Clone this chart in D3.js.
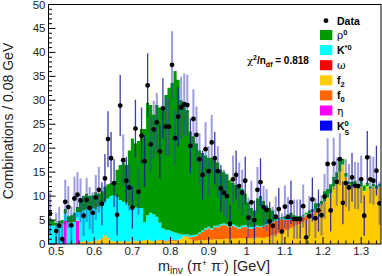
<!DOCTYPE html>
<html>
<head>
<meta charset="utf-8">
<script src="https://cdn.jsdelivr.net/npm/d3@7"></script>
<style>
  body { margin: 0; background: #fff; }
  svg { display: block; font-family: "Liberation Sans", Arial, Helvetica, sans-serif; }
</style>
</head>
<body>
<div id="chart"></div>
<script>
// binning of the invariant mass histogram
var binLow = 0.48;
var binWidth = 0.008;

// data points (events per bin) and their errors
var counts = [6.4,0,2.7,3.8,1.0,8.8,7.7,3.9,9.5,10.3, 9.1,5.9,9.2,7.5,6.5,9.7,11.3,8.4,13.7,21.9,
  17.9,12.7,6.1,28.9,17.5,13.2,11.8,7.6,24.1,10.9, 22.6,17.3,33.1,20.8,23.9,25.4,19.3,28.3,24.5,24.5,
  37.4,22.1,26.6,28.5,29.2,29.0,20.5,26.1,22.8,17.7, 14.4,19.8,15.2,21.2,17.9,15.2,11.6,10.7,10.0,4.2,
  13.5,14.4,12.1,10.7,13.2,5.5,8.7,5.0,11.3,12.9, 7.7,7.1,4.7,3.8,5.7,7.3,2.6,7.8,5.6,8.7,
  5.2,5.2,5.2,7.9,1.4,5.8,9.3,5.4,7.0,6.0, 9.9,16.7,7.0,16.8,13.0,17.7,8.6,12.7,11.8,13.9,
  12.2,12.1,13.5,5.9,18.1,13.5,13.2,15.3,8.5];
var errors = [4.3,0,3.8,4.0,3.6,4.6,4.4,4.0,4.6,4.7, 4.6,4.2,4.6,4.4,4.3,4.7,4.8,4.5,5.1,5.8,
  5.5,5.0,4.3,6.4,5.4,5.0,4.9,4.4,6.0,4.8, 5.9,5.4,6.7,5.7,6.0,6.1,5.6,6.3,6.0,6.0,
  7.0,5.8,6.2,6.4,6.4,6.4,5.7,6.2,5.9,5.4, 5.1,5.6,5.2,5.8,5.5,5.2,4.9,4.8,4.7,4.0,
  5.0,5.1,4.9,4.8,5.0,4.2,4.5,4.1,4.8,5.0, 4.4,4.4,4.1,4.0,4.2,4.4,3.8,4.4,4.2,4.5,
  4.1,4.1,4.1,4.5,3.7,4.2,4.6,4.2,4.4,4.2, 4.7,5.4,4.4,5.4,5.0,5.4,4.5,5.0,4.9,5.1,
  4.9,4.9,5.0,4.2,5.5,5.0,5.0,5.2,4.5];
// bins belonging to the second data sample
var sampleB = [17,18,19,20,21,22,23,25,27,28,30,31,32,36,37,42,46,50,54,56,59,61,64,67,69,72,75,79,82,84,86,88,92,96,99,103,104,107];

// fitted components
var rho = [1.4,1.2,0.5,0.8,0.7,1.0,1.3,1.5,1.9,1.0, 3.0,3.0,3.3,3.0,2.7,3.5,2.7,3.0,3.0,3.0,
  2.7,2.3,5.7,7.3,8.2,7.9,11.5,14.2,13.4,14.0, 16.5,19.4,23.5,22.5,20.8,23.3,24.0,24.6,28.1,29.7,
  31.0,33.7,32.1,28.0,27.0,26.0,21.7,20.6,19.0,17.1, 16.2,15.2,14.4,14.7,13.7,13.2,11.4,10.7,10.4,9.5,
  8.7,8.5,8.5,7.7,6.6,5.1,4.0,3.4,5.7,6.3, 5.1,3.8,3.1,2.3,1.0,0.3,0.2,0.6,1.0,1.3,
  0.8,0.4,0.3,0.2,0.3,0.6,0.6,1.3,0.8,0.7, 2.0,1.8,1.9,1.9,1.4,2.4,1.2,0.7,0.4,0.9,
  0.6,0.9,0.9,1.1,0.7,0.4,0.5,0.6,0.4];
var kstar = [4.0,3.8,3.9,4.0,4.3,1.5,4.5,4.5,4.5,1.8, 6.1,6.4,6.6,6.6,6.9,6.6,6.9,6.8,7.1,8.2,
  9.3,9.6,9.3,8.7,8.2,8.1,7.5,7.2,6.9,6.9, 6.8,3.8,5.1,5.8,5.6,4.9,3.6,2.5,2.3,2.1,
  1.7,1.6,1.3,0.9,0.4,0.4,0.4,0.4,0.3,0.3, 0.3,0.3,0.3,0.3,0.3,0.3,0.3,0.3,0.3,0.3,
  0.3,0.3,0.3,0.3,0.3,0.3,0.3,0.2,0.2,0.2, 0.2,0.2,0.2,0.2,0.2,0.2,0.2,0.2,0.2,0.2,
  0.2,0.2,0.2,0.2,0.2,0.2,0.2,0.2,0.2,0.1, 0.1,0.1,0.1,0.1,0.1,0.1,0.1,0.1,0.1,0.1,
  0.1,0.1,0.1,0.1,0.1,0.1,0.1,0.1,0.1];
var omega = [0,0,0,0,0,0,0,0,0,0, 0,0,0,0,0,0,0,0,0,0, 0,0,0,0,0,0,0,0,0,0,
  0,0,0,0,0,0,0,0.1,0.1,0.1, 0.1,0.1,0,0,0,0,0,0,0,0, 0,0,0,0,0,0,0,0,0,0,
  0,0,0,0,0,0,0,0,0,0, 0,0,0,0,0,0,0,0,0,0, 0,0,0,0,0,0,0,0,0,0,
  0,0,0,0,0,0,0,0,0,0, 0,0,0,0,0,0,0,0,0];
var f2 = [0,0,0,0,0,0,0,0,0.1,0.1, 0.3,0.5,0.4,0.3,0.5,0.6,0.8,1.0,1.8,1.2,
  0.6,0.5,0.4,0.4,0.5,0.4,0.4,0.5,0.6,0.5, 0.6,0.7,0.8,0.6,0.5,0.7,0.8,0.6,0.5,0.6,
  0.7,0.6,0.8,1.0,1.5,1.4,1.0,0.7,0.7,0.8, 0.8,0.8,0.9,0.9,1.0,1.0,1.0,1.0,1.1,1.1,
  1.1,1.1,1.2,1.2,1.2,1.2,1.2,1.3,1.3,1.3, 1.2,1.4,1.5,1.8,2.0,2.2,2.5,2.8,3.0,3.3,
  3.6,4.0,4.2,4.6,5.0,5.4,5.8,6.5,7.2,8.0, 8.8,9.6,10.5,12.0,13.5,15.0,16.5,14.0,12.5,12.0,
  12.5,11.5,12.0,11.0,12.0,11.5,12.0,11.5,12.0];
var f0 = [0,0,0,0,0,0,0,0,0,0, 0.1,0.1,0.2,0.1,0.1,0.1,0.1,0.2,0.1,0.1,
  0.1,0.1,0.1,0.1,0.1,0.1,0.1,0.1,0.1,0.1, 0.1,0.1,0.1,0.1,0.1,0.1,0.1,0.1,0.1,0.1,
  0.1,0.1,0.1,0.1,0.1,0.2,0.4,0.8,1.0,1.3, 1.7,2.2,2.4,2.1,2.5,2.5,2.8,3.0,2.7,2.4,
  2.7,2.4,2.0,2.3,2.4,2.1,2.0,2.1,2.3,2.2, 2.5,2.6,2.7,2.7,2.8,2.8,2.7,2.2,2.0,1.7,
  1.4,1.2,1.1,1.0,1.0,0.8,0.7,0.5,0.3,0.2, 0.1,0,0,0,0,0,0,0,0,0,
  0,0,0,0,0,0,0,0,0];
var eta = [0,0,0,0,0,4.8,0,0,0,4.8, 0,0,0,0,0,0,0,0,0,0, 0,0,0,0,0,0,0,0,0,0,
  0,0,0,0,0,0,0,0,0,0, 0,0,0,0,0,0,0,0,0,0, 0,0,0,0,0,0,0,0,0,0,
  0,0,0,0,0,0,0,0,0,0, 0,0,0,0,0,0,0,0,0,0, 0,0,0,0,0,0,0,0,0,0,
  0,0,0,0,0,0,0,0,0,0, 0,0,0,0,0,0,0,0,0];
var kshort = eta.map(function() { return 0; });

var xTicks = [0.5, 0.6, 0.7, 0.8, 0.9, 1, 1.1, 1.2, 1.3];
var xTickLabels = ["0.5", "0.6", "0.7", "0.8", "0.9", "1", "1.1", "1.2", "1.3"];
var yTicks = [0, 5, 10, 15, 20, 25, 30, 35, 40, 45, 50];

var width = 382, height = 276;
var m = {left: 48.5, right: 381, top: 4.5, bottom: 244};

var svg = d3.select("#chart").append("svg")
  .attr("width", width)
  .attr("height", height);

var x = d3.scaleLinear().domain([binLow, binLow + binWidth * counts.length]).range([m.left, m.right]);
var y = d3.scaleLinear().domain([0, 50]).range([m.bottom, m.top]);

svg.append("defs").append("clipPath").attr("id", "clip")
  .append("rect").attr("x", m.left).attr("y", m.top)
  .attr("width", m.right - m.left).attr("height", m.bottom - m.top);

// stacked fit components, bottom first
var layers = [
  {key: "ks", values: kshort, color: "#0000ff"},
  {key: "eta", values: eta, color: "#ff00ff"},
  {key: "f2", values: f2, color: "#ffcc00"},
  {key: "f0", values: f0, color: "#ff6600"},
  {key: "omega", values: omega, color: "#ff0000"},
  {key: "kstar", values: kstar, color: "#00ffff"},
  {key: "rho", values: rho, color: "#009900"}
];

var table = counts.map(function(_, i) {
  var row = {bin: i};
  layers.forEach(function(l) { row[l.key] = l.values[i]; });
  return row;
});

var stacked = d3.stack().keys(layers.map(function(l) { return l.key; }))(table);

var area = d3.area()
  .x(function(d) { return x(d.x); })
  .y0(function(d) { return y(d.y0); })
  .y1(function(d) { return y(d.y1); });

var plot = svg.append("g").attr("clip-path", "url(#clip)");

stacked.forEach(function(series, li) {
  var pts = [];
  series.forEach(function(d, i) {
    var lo = binLow + i * binWidth;
    pts.push({x: lo, y0: d[0], y1: d[1]});
    pts.push({x: lo + binWidth, y0: d[0], y1: d[1]});
  });
  plot.append("path")
    .attr("d", area(pts))
    .attr("fill", layers[li].color);
});

// data points with error bars
var points = counts.map(function(v, i) {
  return {x: binLow + (i + 0.5) * binWidth, v: v, e: errors[i], b: sampleB.indexOf(i) >= 0};
}).filter(function(d) { return d.v > 0; });

plot.append("g").selectAll("line")
  .data(points.filter(function(d) { return !d.b; }))
  .enter().append("line")
  .attr("x1", function(d) { return x(d.x); })
  .attr("x2", function(d) { return x(d.x); })
  .attr("y1", function(d) { return y(Math.max(0, d.v - d.e)); })
  .attr("y2", function(d) { return y(d.v + d.e); })
  .attr("stroke", "rgba(60,60,190,0.5)")
  .attr("stroke-width", 2);

plot.append("g").selectAll("line")
  .data(points.filter(function(d) { return d.b; }))
  .enter().append("line")
  .attr("x1", function(d) { return x(d.x); })
  .attr("x2", function(d) { return x(d.x); })
  .attr("y1", function(d) { return y(Math.max(0, d.v - d.e)); })
  .attr("y2", function(d) { return y(d.v + d.e); })
  .attr("stroke", "rgba(25,25,150,0.85)")
  .attr("stroke-width", 1.3);

plot.append("g").selectAll("circle")
  .data(points)
  .enter().append("circle")
  .attr("cx", function(d) { return x(d.x); })
  .attr("cy", function(d) { return y(d.v); })
  .attr("r", 2.4)
  .attr("fill", "#000");

// frame
svg.append("rect")
  .attr("x", m.left).attr("y", m.top)
  .attr("width", m.right - m.left).attr("height", m.bottom - m.top)
  .attr("fill", "none").attr("stroke", "#000").attr("stroke-width", 1);

// axes ticks (ROOT style, inside)
var ax = svg.append("g").attr("stroke", "#000").attr("stroke-width", 1);
d3.range(0, 51, 1).forEach(function(v) {
  var major = v % 5 === 0;
  ax.append("line").attr("x1", m.left).attr("x2", m.left + (major ? 7 : 3.5))
    .attr("y1", y(v)).attr("y2", y(v));
});
d3.range(0, 44).map(function(i) { return 0.48 + i * 0.02; }).forEach(function(v) {
  var major = Math.abs(v * 10 - Math.round(v * 10)) < 1e-6;
  if (x(v) < m.left || x(v) > m.right) return;
  ax.append("line").attr("x1", x(v)).attr("x2", x(v))
    .attr("y1", m.bottom).attr("y2", m.bottom - (major ? 7 : 3.5));
});

svg.append("g").selectAll("text")
  .data(yTicks).enter().append("text")
  .attr("x", 45.5).attr("y", function(d) { return y(d) + 4; })
  .attr("text-anchor", "end")
  .attr("font-size", 11.5).attr("fill", "#222")
  .text(function(d) { return d; });

svg.append("g").selectAll("text")
  .data(xTicks).enter().append("text")
  .attr("x", function(d) { return x(d); }).attr("y", 255)
  .attr("text-anchor", "middle")
  .attr("font-size", 11.5).attr("fill", "#222")
  .text(function(d, i) { return xTickLabels[i]; });

// axis titles
svg.append("text")
  .attr("transform", "translate(13,121) rotate(-90)")
  .attr("text-anchor", "middle")
  .attr("font-size", 14).attr("fill", "#222")
  .text("Combinations / 0.08 GeV");

var xt = svg.append("text")
  .attr("x", 214).attr("y", 271)
  .attr("text-anchor", "middle")
  .attr("font-size", 14.5).attr("fill", "#222");
xt.append("tspan").text("m");
xt.append("tspan").attr("font-size", 10).attr("dy", 3).text("inv");
xt.append("tspan").attr("dy", -3).text(" (π");
xt.append("tspan").attr("font-size", 9).attr("dy", -5).text("+");
xt.append("tspan").attr("dy", 5).text(" π");
xt.append("tspan").attr("font-size", 9).attr("dy", -5).text("-");
xt.append("tspan").attr("dy", 5).text(") [GeV]");

// chi2 text
var ct = svg.append("text")
  .attr("x", 247).attr("y", 64)
  .attr("font-size", 10).attr("font-weight", "bold").attr("fill", "#000");
ct.append("tspan").attr("font-weight", "normal").attr("font-family", "DejaVu Serif, serif").text("χ");
ct.append("tspan").attr("font-size", 7).attr("dy", -4).text("2");
ct.append("tspan").attr("dy", 4).text("/n");
ct.append("tspan").attr("font-size", 7).attr("dy", 2.5).text("df");
ct.append("tspan").attr("dy", -2.5).text(" = 0.818");

// legend
var legend = svg.append("g");
legend.append("circle").attr("cx", 326).attr("cy", 20.7).attr("r", 2.4).attr("fill", "#000");
legend.append("text").attr("x", 337).attr("y", 24.5)
  .attr("font-size", 10.5).attr("font-weight", "bold").text("Data");

var entries = [
  {color: "#009900", parts: [["ρ", "greek"], ["0", "sup"]]},
  {color: "#00ffff", parts: [["K", "bold"], ["*0", "sup"]]},
  {color: "#ff0000", parts: [["ω", "greek"]]},
  {color: "#ffcc00", parts: [["f", "bold"], ["2", "sub"]]},
  {color: "#ff6600", parts: [["f", "bold"], ["0", "sub"]]},
  {color: "#ff00ff", parts: [["η", "greek"]]},
  {color: "#0000ff", parts: [["K", "bold"], ["0", "sup"]], below: "S"}
];

entries.forEach(function(e, i) {
  var cy = 35 + i * 15.1;
  legend.append("rect").attr("x", 320).attr("y", cy - 5).attr("width", 12.3).attr("height", 10)
    .attr("fill", e.color);
  var t = legend.append("text").attr("x", 337).attr("y", cy + 4)
    .attr("font-size", 10.5).attr("font-weight", "bold").attr("fill", "#000");
  var shift = 0;
  e.parts.forEach(function(p) {
    var s = t.append("tspan").text(p[0]);
    if (p[1] === "greek") {
      s.attr("font-weight", "normal").attr("font-family", "DejaVu Serif, serif");
    }
    if (p[1] === "sup") {
      s.attr("font-size", 7.5).attr("dy", -4 - shift); shift = -4;
    }
    if (p[1] === "sub") {
      s.attr("font-size", 7.5).attr("dy", 3 - shift); shift = 3;
    }
  });
  if (e.below) {
    // subscript stacked under the superscript
    legend.append("text").attr("x", 344.5).attr("y", cy + 9.5)
      .attr("font-size", 7).attr("font-weight", "bold").attr("fill", "#000")
      .text(e.below);
  }
});
</script>
</body>
</html>
